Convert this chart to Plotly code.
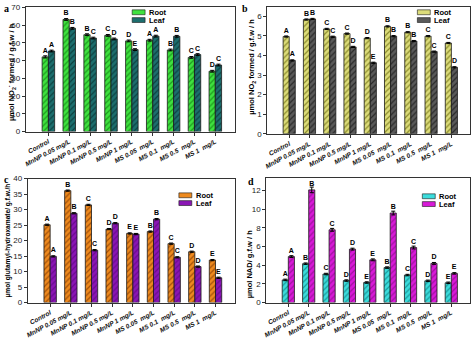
import plotly.graph_objects as go

# Treatments (x categories)
categories = ["Control", "MnNP 0.05 mg/L", "MnNP 0.1 mg/L", "MnNP 0.5 mg/L", "MnNP 1 mg/L",
              "MS 0.05  mg/L", "MS 0.1  mg/L", "MS 0.5  mg/L", "MS 1  mg/L"]

# a: nitrate reductase (µmol NO2- formed / g.f.w / h)
a_root = [42.1, 63.2, 54.6, 54.2, 51.1, 51.5, 46.0, 41.8, 34.0]
a_leaf = [45.4, 58.2, 52.7, 52.2, 46.2, 53.8, 53.7, 43.4, 37.5]
a_root_err = [0.6, 0.5, 0.5, 0.5, 0.5, 0.5, 0.5, 0.5, 0.5]
a_leaf_err = [0.5, 0.5, 0.5, 0.5, 0.5, 0.5, 0.5, 0.5, 0.5]
a_root_lbl = ["A", "B", "B", "C", "D", "A", "B", "C", "D"]
a_leaf_lbl = ["A", "B", "C", "D", "E", "A", "B", "C", "C"]

# b: nitrite reductase (µmol NO2 formed / g.f.w / h)
b_root = [4.97, 5.84, 5.36, 5.12, 4.89, 5.49, 5.19, 4.99, 4.64]
b_leaf = [3.75, 5.87, 4.96, 4.44, 3.63, 4.99, 4.74, 4.20, 3.40]
b_root_err = [0.03] * 9
b_leaf_err = [0.03] * 9
b_root_lbl = ["A", "B", "C", "C", "D", "B", "B", "C", "C"]
b_leaf_lbl = ["A", "B", "C", "D", "E", "B", "B", "C", "D"]

# c: glutamine synthetase (µmol glutamyl-hydroxamate / g.f.w / h)
c_root = [25.1, 36.1, 31.5, 23.7, 22.3, 22.9, 19.0, 16.4, 13.7]
c_leaf = [14.9, 28.8, 16.9, 25.6, 22.1, 26.9, 14.6, 11.6, 8.0]
c_root_err = [0.2] * 9
c_leaf_err = [0.2] * 9
c_root_lbl = ["A", "B", "C", "D", "E", "B", "C", "D", "E"]
c_leaf_lbl = ["A", "B", "C", "D", "E", "B", "C", "D", "E"]

# d: glutamate synthase (µmol NAD / g.f.w / h)
d_root = [2.43, 4.17, 3.06, 2.36, 2.15, 3.75, 2.95, 2.33, 2.12]
d_leaf = [4.93, 12.08, 7.80, 5.73, 4.58, 9.60, 5.90, 4.20, 3.13]
d_root_err = [0.08] * 9
d_leaf_err = [0.1, 0.3, 0.15, 0.1, 0.1, 0.2, 0.15, 0.1, 0.08]
d_root_lbl = ["A", "B", "C", "D", "E", "B", "C", "D", "E"]
d_leaf_lbl = ["A", "B", "C", "D", "E", "B", "C", "D", "E"]

W, H = 474, 340
FONT = "Liberation Sans"
xs = list(range(len(categories)))


def px_x(p):
    return p / W


def px_y(p):
    return 1 - p / H


panels = [
    dict(ax="", root=a_root, leaf=a_leaf, rerr=a_root_err, lerr=a_leaf_err,
         rl=a_root_lbl, ll=a_leaf_lbl,
         rc=("#3fe23f", "#1e9a1e"), lc=("#1d6e6e", "#0c4242"),
         xs=(23, 233), ys=(3.5, 131), yr=[0, 70], dt=10,
         yt="µmol NO<sub>2</sub><sup>-</sup> formed / g.f.w / h", ytp=(8, 70), yts=7.5,
         letter="a", lp=(4, 5), leg=(130, 6)),
    dict(ax="2", root=b_root, leaf=b_leaf, rerr=b_root_err, lerr=b_leaf_err,
         rl=b_root_lbl, ll=b_leaf_lbl,
         rc=("#dcdc7a", "#8c8c2c"), lc=("#5a5a5a", "#2a2a2a"),
         xs=(266, 470), ys=(2.7, 133.3), yr=[0, 6.5], dt=1,
         yt="µmol NO<sub>2</sub> formed / g.f.w / h", ytp=(251, 64), yts=7.5,
         letter="b", lp=(244, 5), leg=(417, 6)),
    dict(ax="3", root=c_root, leaf=c_leaf, rerr=c_root_err, lerr=c_leaf_err,
         rl=c_root_lbl, ll=c_leaf_lbl,
         rc=("#ee8a1e", "#a0500a"), lc=("#8a16b4", "#6a0a90"),
         xs=(25, 233), ys=(179.3, 306.7), yr=[0, 40], dt=5,
         yt="µmol glutamyl-hydroxamate/ g.f.w./h", ytp=(5, 243), yts=6.6,
         letter="c", lp=(4, 180), leg=(177, 194)),
    dict(ax="4", root=d_root, leaf=d_leaf, rerr=d_root_err, lerr=d_leaf_err,
         rl=d_root_lbl, ll=d_leaf_lbl,
         rc=("#3cdcdc", "#1a9a9a"), lc=("#d81ad8", "#a010a0"),
         xs=(265, 470), ys=(178.3, 306.7), yr=[0, 13.4], dt=2,
         yt="µmol NAD/ g.f.w / h", ytp=(249, 267), yts=7.5,
         letter="d", lp=(250, 182), leg=(422, 195)),
]

fig = go.Figure()
annotations = []
shapes = []
layout_axes = {}

for p in panels:
    ax = p["ax"]
    xref = "x" + ax
    yref = "y" + ax
    for name, vals, err, lbl, (bg, fg), off in [
        ("Root", p["root"], p["rerr"], p["rl"], p["rc"], -0.15),
        ("Leaf", p["leaf"], p["lerr"], p["ll"], p["lc"], 0.15),
    ]:
        fig.add_trace(go.Bar(
            x=xs, y=vals, name=name, width=0.3, offset=off - 0.15,
            xaxis=xref, yaxis=yref, showlegend=False,
            marker=dict(color=bg, line=dict(color="#1a1a1a", width=0.8),
                        pattern=dict(shape="/", fgcolor=fg, bgcolor=bg,
                                     size=4, solidity=0.3, fillmode="replace")),
            error_y=dict(type="data", array=err, visible=True, color="black",
                         thickness=1, width=2),
            text=lbl, textposition="outside", constraintext="none",
            textfont=dict(family=FONT, size=7, color="black", weight="bold"),
            cliponaxis=False,
        ))

    x0, x1 = p["xs"]
    y0, y1 = p["ys"]
    axis_common = dict(showline=True, linecolor="#333333", linewidth=1, mirror=True,
                       ticks="outside", ticklen=3, tickcolor="#333333",
                       showgrid=False, zeroline=False)
    layout_axes["xaxis" + ax] = dict(
        domain=[px_x(x0), px_x(x1)], anchor=yref, range=[-1.08, 8.92],
        tickmode="array", tickvals=xs, ticktext=categories, tickangle=-28,
        tickfont=dict(family=FONT, size=6.5, color="#111111", weight="bold", style="italic"),
        **axis_common)
    layout_axes["yaxis" + ax] = dict(
        domain=[px_y(y1), px_y(y0)], anchor=xref, range=p["yr"], dtick=p["dt"],
        tickfont=dict(family=FONT, size=8, color="#222222"),
        **axis_common)

    # y-axis title
    annotations.append(dict(
        text=p["yt"], x=px_x(p["ytp"][0]), y=px_y(p["ytp"][1]), xref="paper", yref="paper",
        textangle=-90, showarrow=False, xanchor="center", yanchor="middle",
        font=dict(family=FONT, size=p["yts"], color="black", weight="bold")))
    # panel letter
    annotations.append(dict(
        text="<b>" + p["letter"] + "</b>", x=px_x(p["lp"][0]), y=px_y(p["lp"][1]),
        xref="paper", yref="paper", showarrow=False, xanchor="center", yanchor="middle",
        font=dict(family="Liberation Serif", size=10, color="black")))

    # legend key
    lx, ly = p["leg"]
    for i, (name, (bg, fg)) in enumerate([("Root", p["rc"]), ("Leaf", p["lc"])]):
        top = ly + i * 8
        shapes.append(dict(type="rect", xref="paper", yref="paper",
                           x0=px_x(lx), x1=px_x(lx + 13), y0=px_y(top + 5), y1=px_y(top),
                           fillcolor=bg, line=dict(color="#1a1a1a", width=0.6)))
        annotations.append(dict(
            text=name, x=px_x(lx + 15), y=px_y(top + 2.5), xref="paper", yref="paper",
            showarrow=False, xanchor="left", yanchor="middle",
            font=dict(family=FONT, size=7.5, color="black", weight="bold")))

fig.update_layout(
    width=W, height=H, margin=dict(l=0, r=0, t=0, b=0),
    paper_bgcolor="white", plot_bgcolor="white",
    barmode="overlay", showlegend=False,
    annotations=annotations, shapes=shapes,
    **layout_axes,
)

fig.write_html("out.html")
